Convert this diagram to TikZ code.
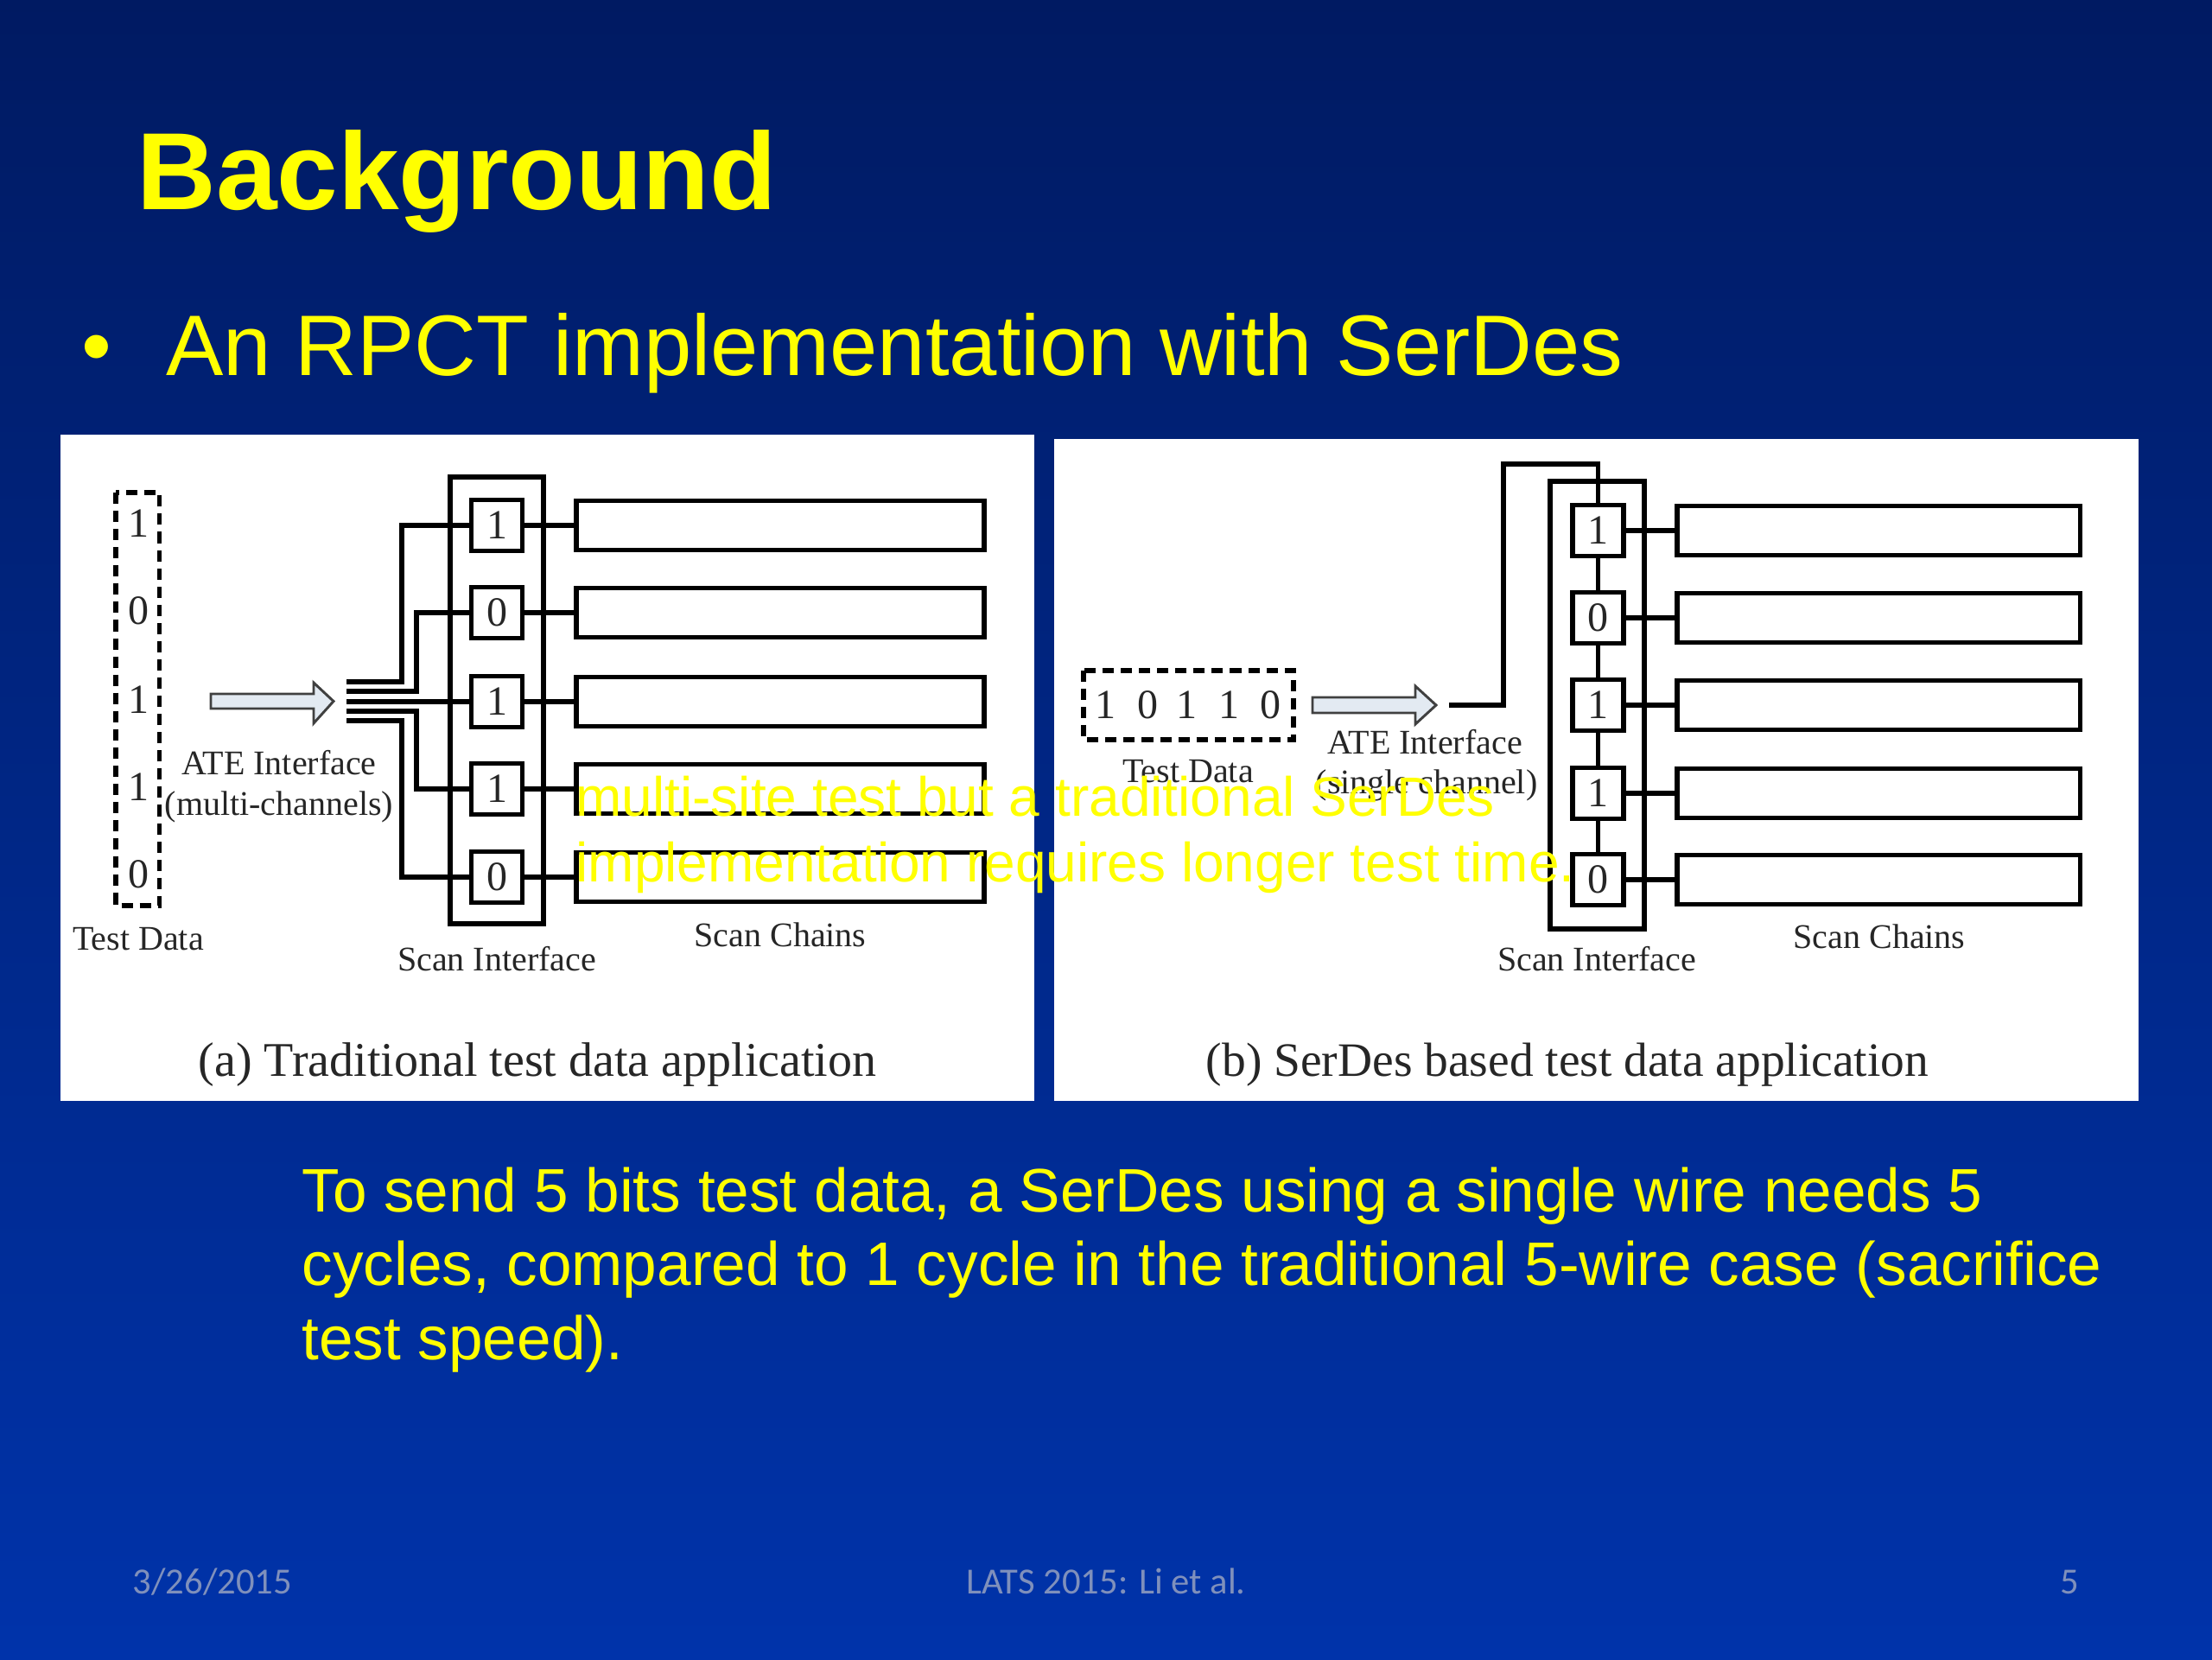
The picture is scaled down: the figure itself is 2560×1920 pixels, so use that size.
\documentclass[tikz,border=0pt]{standalone}
\usepackage{fontspec}
\setmainfont{Liberation Sans}
\newfontfamily\paperfont{Liberation Serif}
\newfontfamily\footfont{Carlito}
\usepackage{xcolor}
\definecolor{slidetop}{HTML}{001A62}
\definecolor{slidemid}{HTML}{002A8E}
\definecolor{slidebot}{HTML}{0033AA}
\definecolor{slideyel}{HTML}{FFFF00}
\definecolor{footgray}{HTML}{7F90BC}
\definecolor{arrowfill}{HTML}{E3EAF2}
\definecolor{papertext}{HTML}{262626}
\tikzset{
  slidetext/.style={anchor=base west,inner sep=0pt,text=slideyel},
  foottext/.style={anchor=base,inner sep=0pt,text=footgray,font=\footfont\fontsize{16}{19}\selectfont},
  papertxt/.style={inner sep=0pt,text=papertext,font=\paperfont\fontsize{15}{18}\selectfont},
  bitval/.style={inner sep=0pt,text=papertext,font=\paperfont\fontsize{18}{20}\selectfont},
  wire/.style={line width=2pt,line join=miter},
  databox/.style={line width=2.1pt,dash pattern=on 4.9pt off 3pt},
  ifacebox/.style={line width=2pt},
  bitbox/.style={draw,line width=2.1pt,fill=white,inner sep=0pt,minimum width=22pt,minimum height=22pt,text=papertext,font=\paperfont\fontsize{18}{20}\selectfont},
  chainbox/.style={draw,line width=2.1pt,fill=white,inner sep=0pt,minimum height=21.5pt},
  atearrow/.style={draw=black!75,line width=1.1pt,fill=arrowfill,line join=miter}
}

\begin{document}
\begin{tikzpicture}[x=0.375pt,y=-0.375pt]
  \useasboundingbox (0,0) rectangle (2560,1920);
  % Slide background
  \fill[top color=slidetop,middle color=slidemid,bottom color=slidebot] (0,0) rectangle (2560,1920);

  % Heading
  \node[slidetext,font=\bfseries\fontsize{47.6}{56}\selectfont] (title) at (158,242) {Background};
  \node[slidetext,font=\fontsize{37.3}{44}\selectfont] (bullet) at (94,434) {•};
  \node[slidetext,font=\fontsize{37.3}{44}\selectfont] (headline) at (192,434) {An RPCT implementation with SerDes};

  % Paper figures
  \fill[white] (70,503) rectangle (1197,1274);
  \fill[white] (1220,508) rectangle (2475,1274);

  % (a) test data
  \draw[databox] (134,570) rectangle (184.5,1048);
  \foreach \n/\v/\y in {1/1/606, 2/0/707, 3/1/810, 4/1/911, 5/0/1012} {
    \node[bitval] (dataA\n) at (160,\y) {\v};
  }
  \node[papertxt] (dataAlabel) at (160,1087) {Test Data};

  % (a) ATE arrow
  \draw[atearrow] (244,803) -- (363,803) -- (363,790) -- (386,811.5) -- (363,837) -- (363,820) -- (244,820) -- cycle;
  \node[papertxt] (ateA) at (323,883) {ATE Interface};
  \node[papertxt] (ateAsub) at (323,934) {(multi-channels)};

  % (a) scan interface and chains
  \draw[ifacebox] (521,552) rectangle (629,1069);
  \foreach \n/\v/\y in {1/1/608, 2/0/709, 3/1/812, 4/1/913, 5/0/1015} {
    \node[bitbox] (bitA\n) at (575,\y) {\v};
    \node[chainbox,minimum width=177pt,anchor=west] (chainA\n) at (664,\y) {};
    \draw[wire] (bitA\n.east) -- (chainA\n.west);
  }
  \foreach \n/\yin/\xt in {1/789/465, 2/800/482, 3/812/482, 4/823/482, 5/834/465} {
    \coordinate (inA\n) at (401,\yin);
    \draw[wire] (inA\n) -| (\xt,0 |- bitA\n.west) -- (bitA\n.west);
  }
  \node[papertxt] (ifaceA) at (575,1110) {Scan Interface};
  \node[papertxt] (chainsA) at (903,1082) {Scan Chains};
  \node[papertxt,font=\paperfont\fontsize{21}{25}\selectfont] (captionA) at (622,1232) {(a) Traditional test data application};

  % (b) test data
  \draw[databox] (1254,776) rectangle (1497,856);
  \foreach \n/\v/\x in {1/1/1279, 2/0/1328, 3/1/1373, 4/1/1422, 5/0/1470} {
    \node[bitval] (dataB\n) at (\x,816) {\v};
  }
  \node[papertxt] (dataBlabel) at (1375,893) {Test Data};

  % (b) ATE arrow
  \draw[atearrow] (1519,807) -- (1638,807) -- (1638,794) -- (1662,816) -- (1638,838) -- (1638,825) -- (1519,825) -- cycle;
  \node[papertxt] (ateB) at (1649,859) {ATE Interface};
  \node[papertxt] (ateBsub) at (1651,909) {(single channel)};

  % (b) scan interface and chains
  \draw[ifacebox] (1794,557) rectangle (1903,1075);
  \foreach \n/\v/\y in {1/1/614, 2/0/715, 3/1/816, 4/1/918, 5/0/1018} {
    \node[bitbox] (bitB\n) at (1849.5,\y) {\v};
    \node[chainbox,minimum width=175pt,anchor=west] (chainB\n) at (1938,\y) {};
    \draw[wire] (bitB\n.east) -- (chainB\n.west);
  }
  \foreach \a/\b in {1/2, 2/3, 3/4, 4/5} {
    \draw[wire] (bitB\a.south) -- (bitB\b.north);
  }
  \coordinate (inB) at (1677,816);
  \coordinate (turnB) at (1740,537);
  \draw[wire] (inB) -| (turnB) -| (bitB1.north);
  \node[papertxt] (ifaceB) at (1848,1110) {Scan Interface};
  \node[papertxt] (chainsB) at (2175,1084) {Scan Chains};
  \node[papertxt,font=\paperfont\fontsize{20.8}{25}\selectfont] (captionB) at (1814,1232) {(b) SerDes based test data application};

  % Text lying over the figures
  \node[slidetext,font=\fontsize{24}{28}\selectfont] (overA) at (666,944) {multi-site test but a traditional SerDes};
  \node[slidetext,font=\fontsize{24}{28}\selectfont] (overB) at (666,1020) {implementation requires longer test time.};

  % Remarks below
  \node[slidetext,font=\fontsize{26.67}{32}\selectfont] (noteA) at (349,1402) {To send 5 bits test data, a SerDes using a single wire needs 5};
  \node[slidetext,font=\fontsize{26.67}{32}\selectfont] (noteB) at (349,1487) {cycles, compared to 1 cycle in the traditional 5-wire case (sacrifice};
  \node[slidetext,font=\fontsize{26.67}{32}\selectfont] (noteC) at (349,1573) {test speed).};

  % Footer
  \node[foottext] (footdate) at (246,1844) {3/26/2015};
  \node[foottext] (footconf) at (1280,1844) {LATS 2015: Li et al.};
  \node[foottext] (footpage) at (2395,1844) {5};
\end{tikzpicture}
\end{document}
